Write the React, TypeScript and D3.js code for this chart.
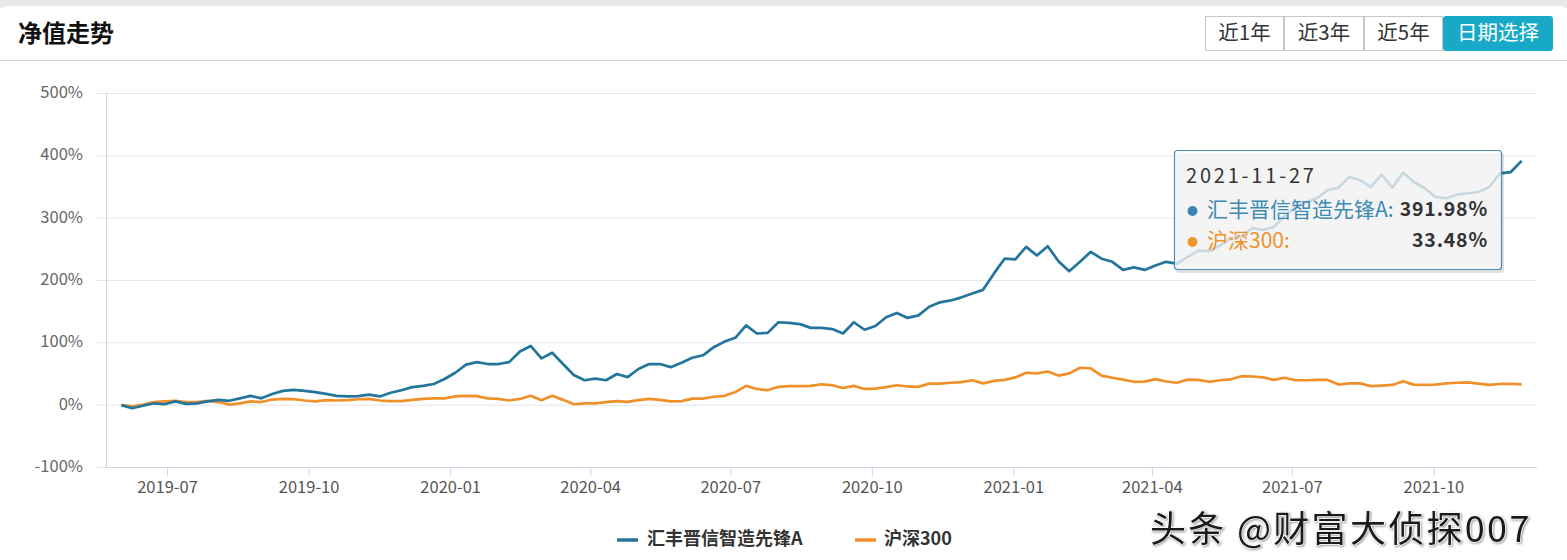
import React from "react";
import * as d3 from "d3";

const W = 1567;
const H = 560;

const startDate = "2019-06-01";
const endDate = "2021-11-27";

const fundName = "汇丰晋信智造先锋A";
const indexName = "沪深300";

// weekly values (%)
const fundValues = [
  0, -5, -1, 3, 1.5, 6, 2, 3, 6, 8.5,
  7, 11, 15, 11, 18, 23, 24.5, 23, 21, 18,
  15, 14, 14.5, 17, 14, 20, 24, 29, 31, 34,
  42, 52, 65, 69, 66, 66, 69, 86, 95, 75,
  84, 66, 48.5, 40, 42.5, 40, 50, 45, 58, 66,
  66, 61, 68, 76, 80, 93, 102, 108, 128, 115,
  116, 133, 132, 130, 124, 124, 122, 115, 133, 121,
  127, 141, 148, 140, 144, 158, 165, 168, 173, 179,
  185, 211, 235, 234, 254, 240, 255, 231, 215, 230,
  246, 235, 230, 217, 221, 217, 224, 230, 227, 238,
  248, 247, 256, 268, 270, 284, 281, 286, 303, 318,
  325, 332, 345, 349, 366, 361, 350, 370, 349, 373,
  358, 348, 334, 332, 338, 340, 342, 350, 372, 374,
  391.98,
];

const indexValues = [
  0, -2, 0.5, 5, 6, 7, 5, 5, 7, 5,
  1, 3, 6, 5, 9, 10, 9.6, 7.5, 6, 8,
  7.5, 8, 9.5, 10, 7.5, 6.4, 6.4, 8.5, 10, 11,
  11, 14, 15, 14.5, 11, 10, 7.5, 10, 15, 8,
  15, 8.5, 1.5, 3, 3, 4.8, 6.4, 5.3, 8, 10,
  8.5, 6, 6.4, 10.5, 10.6, 13.5, 15, 21, 31, 26,
  24, 29.5, 30.4, 30.4, 31, 33.5, 32, 27.5, 31, 26,
  26.6, 29, 32, 30, 29.3, 34.5, 34.6, 36, 37, 40,
  35, 39, 40.5, 44.5, 52, 51, 54, 47.5, 51, 60,
  59, 47.5, 44, 41, 37.5, 37.8, 41.7, 38, 36, 41,
  40.5, 37.5, 40, 41.5, 46.5, 46, 44.5, 40.5, 44, 40,
  40, 40.5, 40.5, 33, 35, 35, 30.5, 31.5, 32.5, 38.5,
  33, 32.5, 33, 35, 36, 36.5, 34.5, 32.5, 34, 34,
  33.48,
];

const yTicks = [-100, 0, 100, 200, 300, 400, 500];
const xTickLabels = [
  "2019-07", "2019-10", "2020-01", "2020-04", "2020-07",
  "2020-10", "2021-01", "2021-04", "2021-07", "2021-10",
];
const rangeButtons = ["近1年", "近3年", "近5年", "日期选择"];
const tooltipDate = "2021-11-27";
const tooltipFund = "391.98%";
const tooltipIndex = "33.48%";

const BLUE = "#23759c";
const ORANGE = "#f0902a";
const FONT = "'Noto Sans CJK SC', 'Noto Sans', sans-serif";

export default function App() {
  const parse = d3.timeParse("%Y-%m-%d");
  const start = parse(startDate) as Date;
  const dates = fundValues.map((_, i) => d3.timeWeek.offset(start, i));
  const pad = 10;
  const x = d3
    .scaleTime()
    .domain([d3.timeDay.offset(start, -pad), d3.timeDay.offset(parse(endDate) as Date, pad)])
    .range([106, 1537]);
  const y = d3.scaleLinear().domain([-100, 500]).range([467.5, 93.5]);

  const line = d3
    .line<number>()
    .x((_, i) => x(dates[i]))
    .y((d) => y(d));

  const tickDates = xTickLabels.map((s) => parse(s + "-01") as Date);

  const btnX = [1205, 1284, 1364, 1443, 1553];

  return (
    <svg
      width={W}
      height={H}
      style={{ position: "absolute", left: 0, top: 0, background: "#fff" }}
      fontFamily={FONT}
    >
      <rect x={0} y={0} width={W} height={H} fill="#fff" />
      <rect x={0} y={0} width={W} height={8} fill="#e9e9e9" />
      <rect x={0} y={6} width={W} height={H} rx={6} fill="#fff" />
      <text x={18} y={35} fontSize={24} fontWeight="bold" fill="#111" dominantBaseline="middle">
        净值走势
      </text>
      <line x1={0} x2={W} y1={60.5} y2={60.5} stroke="#d0d0d0" />

      {rangeButtons.map((b, i) => {
        const active = i === rangeButtons.length - 1;
        const x0 = btnX[i];
        const x1 = btnX[i + 1];
        return (
          <g key={b}>
            <rect
              x={x0 + 0.5}
              y={16.5}
              width={x1 - x0 - 1}
              height={34}
              rx={active ? 2 : 0}
              fill={active ? "#17a9c7" : "#fff"}
              stroke={active ? "#17a9c7" : "#c8c8c8"}
            />
            <text
              x={(x0 + x1) / 2}
              y={34}
              fontSize={20.5}
              textAnchor="middle"
              dominantBaseline="middle"
              fill={active ? "#fff" : "#333"}
            >
              {b}
            </text>
          </g>
        );
      })}

      {yTicks.map((t) => (
        <g key={t}>
          <line x1={95} x2={1537} y1={y(t)} y2={y(t)} stroke="#e2e5ee" strokeWidth={1} />
          <text
            x={83}
            y={y(t)}
            fontSize={16.5}
            fill="#666"
            textAnchor="end"
            dominantBaseline="middle"
          >
            {t}%
          </text>
        </g>
      ))}
      <line x1={106.5} x2={106.5} y1={93.5} y2={468} stroke="#cdd3e2" />
      <line x1={106} x2={1537} y1={467.5} y2={467.5} stroke="#cdd3e2" />
      {tickDates.map((d, i) => (
        <g key={i}>
          <line x1={x(d)} x2={x(d)} y1={467.5} y2={476} stroke="#cdd3e2" />
          <text
            x={x(d)}
            y={489}
            fontSize={16.5}
            fill="#555"
            textAnchor="middle"
            dominantBaseline="middle"
          >
            {xTickLabels[i]}
          </text>
        </g>
      ))}

      <path d={line(indexValues) || ""} fill="none" stroke={ORANGE} strokeWidth={2.7} strokeLinejoin="round" />
      <path d={line(fundValues) || ""} fill="none" stroke={BLUE} strokeWidth={2.7} strokeLinejoin="round" />

      {/* tooltip */}
      <g>
        <rect x={1176} y={153} width={328} height={120} rx={3} fill="rgba(0,0,0,0.12)" />
        <rect
          x={1174.5}
          y={150.5}
          width={327}
          height={119}
          rx={3}
          fill="rgba(250,250,250,0.78)"
          stroke="#4d8db4"
          strokeWidth={1.2}
        />
        <text x={1186} y={178} fontSize={20} letterSpacing={2.8} fill="#333" dominantBaseline="middle">
          {tooltipDate}
        </text>
        <circle cx={1192.5} cy={211} r={5} fill="#3a87b4" />
        <text x={1207} y={211} fontSize={21} fill="#3d8ab3" dominantBaseline="middle">
          {fundName}:
        </text>
        <text x={1488} y={211} fontSize={19.5} fontWeight="bold" fill="#333" textAnchor="end" letterSpacing={0.8} dominantBaseline="middle">
          {tooltipFund}
        </text>
        <circle cx={1192.5} cy={242} r={5} fill="#f3962e" />
        <text x={1207} y={242} fontSize={21} fill="#f0922c" dominantBaseline="middle">
          {indexName}:
        </text>
        <text x={1488} y={242} fontSize={19.5} fontWeight="bold" fill="#333" textAnchor="end" letterSpacing={0.8} dominantBaseline="middle">
          {tooltipIndex}
        </text>
      </g>

      {/* legend */}
      <line x1={617} x2={638} y1={540} y2={540} stroke={BLUE} strokeWidth={3.5} />
      <text x={647} y={540} fontSize={18} fontWeight="bold" fill="#333" dominantBaseline="middle">
        {fundName}
      </text>
      <line x1={855} x2={876} y1={540} y2={540} stroke={ORANGE} strokeWidth={3.5} />
      <text x={884} y={540} fontSize={18} fontWeight="bold" fill="#333" dominantBaseline="middle">
        {indexName}
      </text>

      {/* watermark */}
      <text
        x={1150}
        y={532}
        fontSize={36}
        letterSpacing={2.3}
        fill="#1a1a1a"
        stroke="#fff"
        strokeWidth={1.5}
        paintOrder="stroke"
        dominantBaseline="middle"
        style={{ filter: "drop-shadow(1px 1px 1px rgba(0,0,0,0.4))" }}
      >
        头条 @财富大侦探007
      </text>
    </svg>
  );
}
